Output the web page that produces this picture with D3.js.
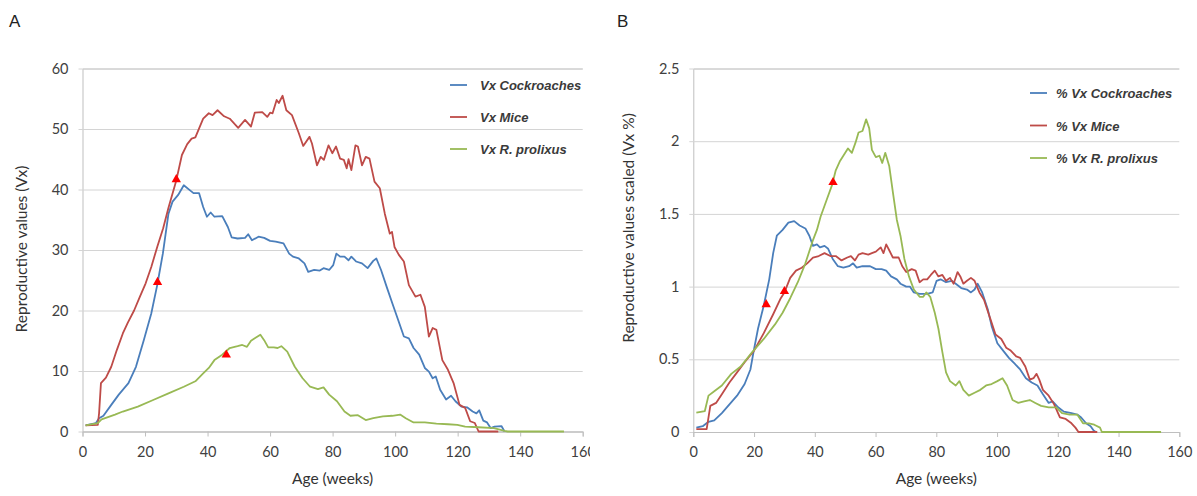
<!DOCTYPE html>
<html>
<head>
<meta charset="utf-8">
<script src="https://cdn.jsdelivr.net/npm/d3@7"></script>
<style>
  body { margin: 0; background: #fff; }
  svg { display: block; }
</style>
</head>
<body>
<svg id="chart" width="1197" height="496"></svg>
<script>
// ---- data: [age (weeks), value] ----
const xTicks = [0, 20, 40, 60, 80, 100, 120, 140, 160];
const yTicksA = [0, 10, 20, 30, 40, 50, 60];
const yTicksB = [0, 0.5, 1, 1.5, 2, 2.5];

const cockroachesA = [[1,1.0],[4.3,1.4],[5.3,2.2],[6.7,2.6],[9.2,4.4],[11.6,6.1],[14.7,8],[17.1,10.7],[19.6,15.1],[22,19.5],[23.9,24.2],[25.7,29.4],[27.5,36],[28.8,38],[30.6,39.1],[32.4,40.7],[34.3,39.9],[35.5,39.4],[37.3,39.4],[38.6,37.1],[39.8,35.5],[41,36.2],[42.2,35.5],[44.7,35.6],[46.5,33.8],[47.7,32.1],[49.6,31.9],[52,32],[53,32.6],[54.2,31.6],[56.3,32.2],[58.1,32],[60,31.5],[61.8,31.4],[64.3,31.1],[66.1,29.4],[67.3,28.9],[69.2,28.6],[71,27.8],[72.2,26.4],[74.1,26.7],[75.9,26.6],[77.1,27],[78.9,26.7],[80.2,27.5],[81.2,29.4],[82.4,28.9],[83.8,28.9],[85.1,28.3],[86,28.9],[87.5,28.1],[89.4,27.8],[91.2,27],[93,28.2],[94,28.6],[95.5,26.7],[97.3,23.9],[99.1,21.2],[101,18.4],[102.8,15.7],[104.4,15.4],[105.9,13.8],[107.7,12.7],[109.5,10.5],[110.8,9.9],[112,8.8],[113,9.1],[114.4,6.9],[116.3,5.3],[117.9,5.9],[119.3,5],[121.2,4.1],[123,4],[124.8,3.3],[126,3],[126.9,3.5],[128.2,1.8],[129.4,1.5],[130.6,0.55],[131.8,0.8],[134,0.9],[135,0]];
const miceA = [[1,1.0],[4.9,1.1],[5.3,3],[5.9,8],[7.5,8.9],[9.2,10.7],[11,13.5],[12.9,16.2],[14.5,18],[16.5,20],[18.3,22.2],[20.2,24.5],[22,27.2],[23.9,30.5],[25.8,33.6],[27.5,37],[30,41.5],[31.8,45.7],[33.5,47.5],[34.9,48.4],[36.1,48.6],[38.6,51.7],[40.4,52.6],[41.6,52.3],[43.2,53.1],[45.3,52.1],[47.1,51.7],[49.8,50.2],[52,51.5],[53.9,50.4],[55.1,52.7],[57.5,52.8],[59.1,52],[60,52.7],[60.8,52.6],[62.1,54.8],[62.8,54.3],[64,55.5],[65.2,53.1],[67,52.3],[69.2,49.3],[70.6,47.2],[72.6,48.7],[73.4,47.6],[75,44],[76.2,45.4],[77.2,44.9],[78.7,47.3],[79.9,46],[81.1,47.1],[82.4,45.1],[83.6,44.9],[84.5,43.5],[85.1,45],[86,43.2],[87.3,47.3],[88.1,47.1],[89.4,44],[90.6,45.4],[91.8,45.1],[93.4,41.3],[95.1,40.2],[96.7,36],[98.3,32.7],[99,33],[99.8,30.5],[101.2,29.2],[102.8,28.1],[104.4,24.2],[106.5,22.3],[108.1,22.6],[109.5,20.6],[110.8,15.7],[112,17.1],[113.2,16.8],[115.1,11.8],[116.9,10.2],[118.7,8],[120.6,4.4],[122.4,3.9],[124,1.7],[125.5,1.4],[126.7,0],[133,0]];
const prolixusA = [[1,1.0],[4.9,1.4],[6.1,2],[10.4,2.8],[12.9,3.3],[17.7,4.1],[22.6,5.2],[27.5,6.3],[32.4,7.4],[36.1,8.3],[38.6,9.6],[40.4,10.5],[42.2,11.8],[44.7,12.7],[47.1,13.8],[49.6,14.1],[51.1,14.3],[52.6,14],[53.9,15],[55.1,15.4],[56.9,16],[58.1,15.1],[59.4,13.9],[61.2,13.9],[62.4,13.8],[63.6,14.1],[65.5,13.2],[67.9,10.7],[70.4,8.8],[72.8,7.4],[75.3,7],[77.1,7.3],[78.9,6.1],[81.4,5],[83.8,3.3],[85.7,2.6],[88.1,2.7],[90.6,1.9],[93,2.2],[96.1,2.5],[99.1,2.6],[101.6,2.8],[103.4,2.2],[105.9,1.5],[109.5,1.5],[113.2,1.3],[116.9,1.2],[119.9,1.1],[122.4,0.8],[126.7,0.7],[131.6,0.55],[135,0.1],[136,0],[154,0]];

const cockroachesB = [[1,0.03],[3.1,0.04],[5,0.07],[6.9,0.08],[9.4,0.13],[11.9,0.19],[14.4,0.25],[16.9,0.33],[18.8,0.43],[20,0.57],[21.3,0.71],[23.2,0.87],[25,1.05],[26.3,1.23],[27.5,1.35],[29.4,1.39],[31.3,1.44],[33.2,1.45],[35,1.42],[36.9,1.40],[38.2,1.35],[39.4,1.28],[40.7,1.29],[41.7,1.27],[43.2,1.28],[44.4,1.26],[45.9,1.19],[47.6,1.14],[49.4,1.13],[51.3,1.14],[52.6,1.16],[53.8,1.13],[55.7,1.14],[58.2,1.14],[60.1,1.12],[62,1.12],[63.5,1.11],[65.1,1.07],[67,1.05],[68.2,1.02],[70.1,1.0],[71.3,1.0],[72.6,0.96],[74.5,0.95],[77,0.95],[78.8,0.96],[80.1,1.04],[81.4,1.05],[83.2,1.03],[85.1,1.04],[86.4,1.02],[88.2,0.99],[90.1,0.98],[91.4,0.96],[92.6,0.98],[93.6,1.02],[95.1,0.96],[97,0.84],[98.2,0.73],[100.1,0.61],[102,0.56],[103.9,0.51],[105.8,0.47],[107.6,0.43],[109.5,0.37],[111.4,0.34],[113.3,0.32],[115.1,0.26],[117,0.2],[118.3,0.21],[120.1,0.17],[122,0.14],[124.5,0.13],[126.4,0.12],[127.7,0.1],[129.3,0.06],[130.8,0.04],[131.8,0.01],[132.5,0]];
const miceB = [[1,0.02],[4.4,0.02],[5.6,0.18],[7.5,0.2],[9.4,0.26],[11.9,0.34],[14.4,0.41],[16.9,0.48],[20,0.56],[23.2,0.68],[26.3,0.81],[28.8,0.92],[30,0.96],[31.9,1.06],[33.8,1.11],[35.7,1.13],[37.5,1.16],[39.4,1.2],[41.3,1.21],[43.2,1.23],[45.1,1.21],[46.9,1.21],[48.8,1.18],[50.7,1.2],[51.9,1.21],[53.2,1.18],[54.4,1.22],[55.7,1.23],[57.6,1.22],[58.8,1.23],[60.1,1.24],[61.7,1.27],[62.6,1.23],[63.5,1.29],[64.5,1.25],[65.7,1.2],[67.6,1.2],[68.8,1.14],[70.1,1.1],[71.9,1.12],[73.2,1.11],[74.5,1.03],[75.7,1.05],[77,1.05],[78.2,1.08],[79.5,1.11],[80.7,1.07],[82,1.08],[83.2,1.04],[84.5,1.06],[85.7,1.02],[87,1.1],[87.9,1.07],[88.9,1.02],[90.1,1.04],[91.4,1.06],[92.6,1.04],[94.2,0.96],[95.7,0.91],[97.6,0.79],[99.5,0.67],[101.4,0.64],[103,0.58],[104.5,0.56],[106.3,0.52],[107.6,0.51],[109.3,0.45],[110.8,0.36],[112,0.37],[113,0.40],[113.9,0.36],[115.1,0.29],[117,0.25],[118.8,0.19],[120.7,0.1],[122.6,0.09],[124.5,0.06],[125.8,0.03],[126.8,0],[133,0]];
const prolixusB = [[1,0.133],[3.8,0.144],[5,0.25],[6.9,0.28],[9.4,0.32],[12.5,0.4],[15.6,0.45],[19.4,0.55],[23.2,0.64],[26.9,0.74],[29.4,0.82],[31.9,0.92],[34.4,1.03],[36.9,1.16],[39.4,1.32],[40.7,1.39],[41.9,1.48],[43.8,1.59],[45.7,1.70],[46.9,1.8],[48.2,1.86],[49.4,1.9],[50.9,1.95],[52.2,1.92],[53.4,1.99],[54.4,2.06],[55.7,2.07],[56.9,2.15],[57.9,2.09],[58.8,1.94],[60.1,1.89],[61.3,1.9],[62.2,1.85],[63.2,1.92],[64.5,1.83],[65.7,1.65],[67,1.46],[68.2,1.35],[69.5,1.19],[71,1.07],[72.6,0.98],[74.5,0.93],[75.7,0.93],[76.7,0.96],[78,0.93],[79.5,0.82],[80.7,0.71],[82,0.55],[83.2,0.41],[84.5,0.35],[86.4,0.32],[87.6,0.35],[88.9,0.29],[90.7,0.25],[92.6,0.27],[94.5,0.29],[96.4,0.32],[98.2,0.33],[100.1,0.35],[101.8,0.37],[103.3,0.32],[105.1,0.22],[107,0.2],[108.9,0.21],[110.8,0.22],[112.6,0.2],[114.5,0.18],[117,0.17],[119.5,0.17],[121.4,0.13],[123.9,0.12],[126.4,0.12],[128.3,0.06],[130.2,0.06],[132,0.05],[133.9,0.03],[134.5,0],[154,0]];

// red triangles marking the onset of reproduction
const markersA = [[24, 24.5], [30, 41.5], [46, 12.5]];
const markersB = [[24, 0.87], [30, 0.96], [46, 1.71]];

const seriesNames = ['Cockroaches', 'Mice', 'R. prolixus'];
const colors = ['#4a7ebb', '#be4b48', '#98b954'];

const svg = d3.select('#chart');
const font = 'Lato, "Open Sans", sans-serif';

function drawPanel(opts) {
  const g = svg.append('g');
  if (opts.clip) {
    svg.append('clipPath').attr('id', opts.clip.id)
      .append('rect').attr('x', opts.clip.x).attr('y', 0).attr('width', opts.clip.w).attr('height', 496);
    g.attr('clip-path', `url(#${opts.clip.id})`);
  }
  const x = d3.scaleLinear().domain([0, 160]).range(opts.xRange);
  const y = d3.scaleLinear().domain([0, opts.yMax]).range(opts.yRange);

  // horizontal gridlines with small outward ticks
  const gy = g.append('g')
    .attr('transform', `translate(${opts.xRange[0]},0)`)
    .call(d3.axisLeft(y).tickValues(opts.yTicks).tickFormat(d => String(d))
      .tickSize(-(opts.xRange[1] - opts.xRange[0])).tickPadding(0));
  gy.select('.domain').attr('stroke', '#bfbfbf');
  gy.selectAll('.tick line').attr('stroke', '#d4d4d4').attr('x1', -4);
  gy.selectAll('.tick text').attr('x', -14).attr('font-size', 14.5)
    .attr('font-family', font).attr('fill', '#404040');

  const gx = g.append('g')
    .attr('transform', `translate(0,${opts.yRange[0]})`)
    .call(d3.axisBottom(x).tickValues(xTicks).tickSize(5).tickPadding(10));
  gx.select('.domain').attr('stroke', '#bfbfbf');
  gx.selectAll('.tick line').attr('stroke', '#bfbfbf');
  gx.selectAll('.tick text').attr('font-size', 14.5)
    .attr('font-family', font).attr('fill', '#404040');

  const line = d3.line().x(d => x(d[0])).y(d => y(d[1]));
  opts.series.forEach((s, i) => {
    g.append('path').datum(s).attr('d', line)
      .attr('fill', 'none').attr('stroke', colors[i])
      .attr('stroke-width', 1.8).attr('stroke-linejoin', 'round');
  });

  g.selectAll('.marker').data(opts.markers).enter().append('path')
    .attr('class', 'marker')
    .attr('transform', d => `translate(${x(d[0])},${y(d[1]) - 1})`)
    .attr('d', d3.symbol(d3.symbolTriangle).size(38))
    .attr('fill', '#ff0000');

  // legend
  const lg = g.append('g');
  seriesNames.forEach((n, i) => {
    const ly = opts.legend.y + i * opts.legend.dy;
    lg.append('line')
      .attr('x1', opts.legend.x).attr('x2', opts.legend.x + 17)
      .attr('y1', ly).attr('y2', ly)
      .attr('stroke', colors[i]).attr('stroke-width', 1.8);
    lg.append('text')
      .attr('x', opts.legend.tx).attr('y', ly + 5)
      .attr('font-family', '"Liberation Sans", Arial, sans-serif')
      .attr('font-style', 'italic').attr('font-weight', 'bold')
      .attr('font-size', 13).attr('fill', '#3a3a3a')
      .text(opts.legend.prefix + n);
  });

  // axis titles
  g.append('text')
    .attr('transform', `translate(${opts.yTitleX},${opts.yTitleY}) rotate(-90)`)
    .attr('text-anchor', 'middle').attr('font-family', font)
    .attr('font-size', 15.5).attr('fill', '#333')
    .text(opts.yTitle);
  g.append('text')
    .attr('x', (opts.xRange[0] + opts.xRange[1]) / 2).attr('y', 484)
    .attr('text-anchor', 'middle').attr('font-family', font)
    .attr('font-size', 15.5).attr('fill', '#333')
    .text('Age (weeks)');

  svg.append('text')
    .attr('x', opts.label.x).attr('y', opts.label.y)
    .attr('font-family', '"Liberation Sans", Arial, sans-serif')
    .attr('font-size', 17).attr('fill', '#222')
    .text(opts.label.text);
}

drawPanel({
  xRange: [82.5, 582.7], yRange: [431.5, 68.5], yMax: 60, yTicks: yTicksA,
  series: [cockroachesA, miceA, prolixusA], markers: markersA,
  legend: { x: 450, tx: 480, y: 85, dy: 32, prefix: 'Vx ' },
  yTitle: 'Reproductive values (Vx)', yTitleX: 27, yTitleY: 249,
  label: { x: 9, y: 27, text: 'A' },
  clip: { id: 'clipA', x: 0, w: 590 }
});

drawPanel({
  xRange: [693.3, 1179.3], yRange: [432, 68.5], yMax: 2.5, yTicks: yTicksB,
  series: [cockroachesB, miceB, prolixusB], markers: markersB,
  legend: { x: 1030, tx: 1056, y: 93, dy: 32.5, prefix: '% Vx ' },
  yTitle: 'Reproductive values scaled (Vx %)', yTitleX: 634, yTitleY: 228,
  label: { x: 617, y: 27, text: 'B' }
});
</script>
</body>
</html>
